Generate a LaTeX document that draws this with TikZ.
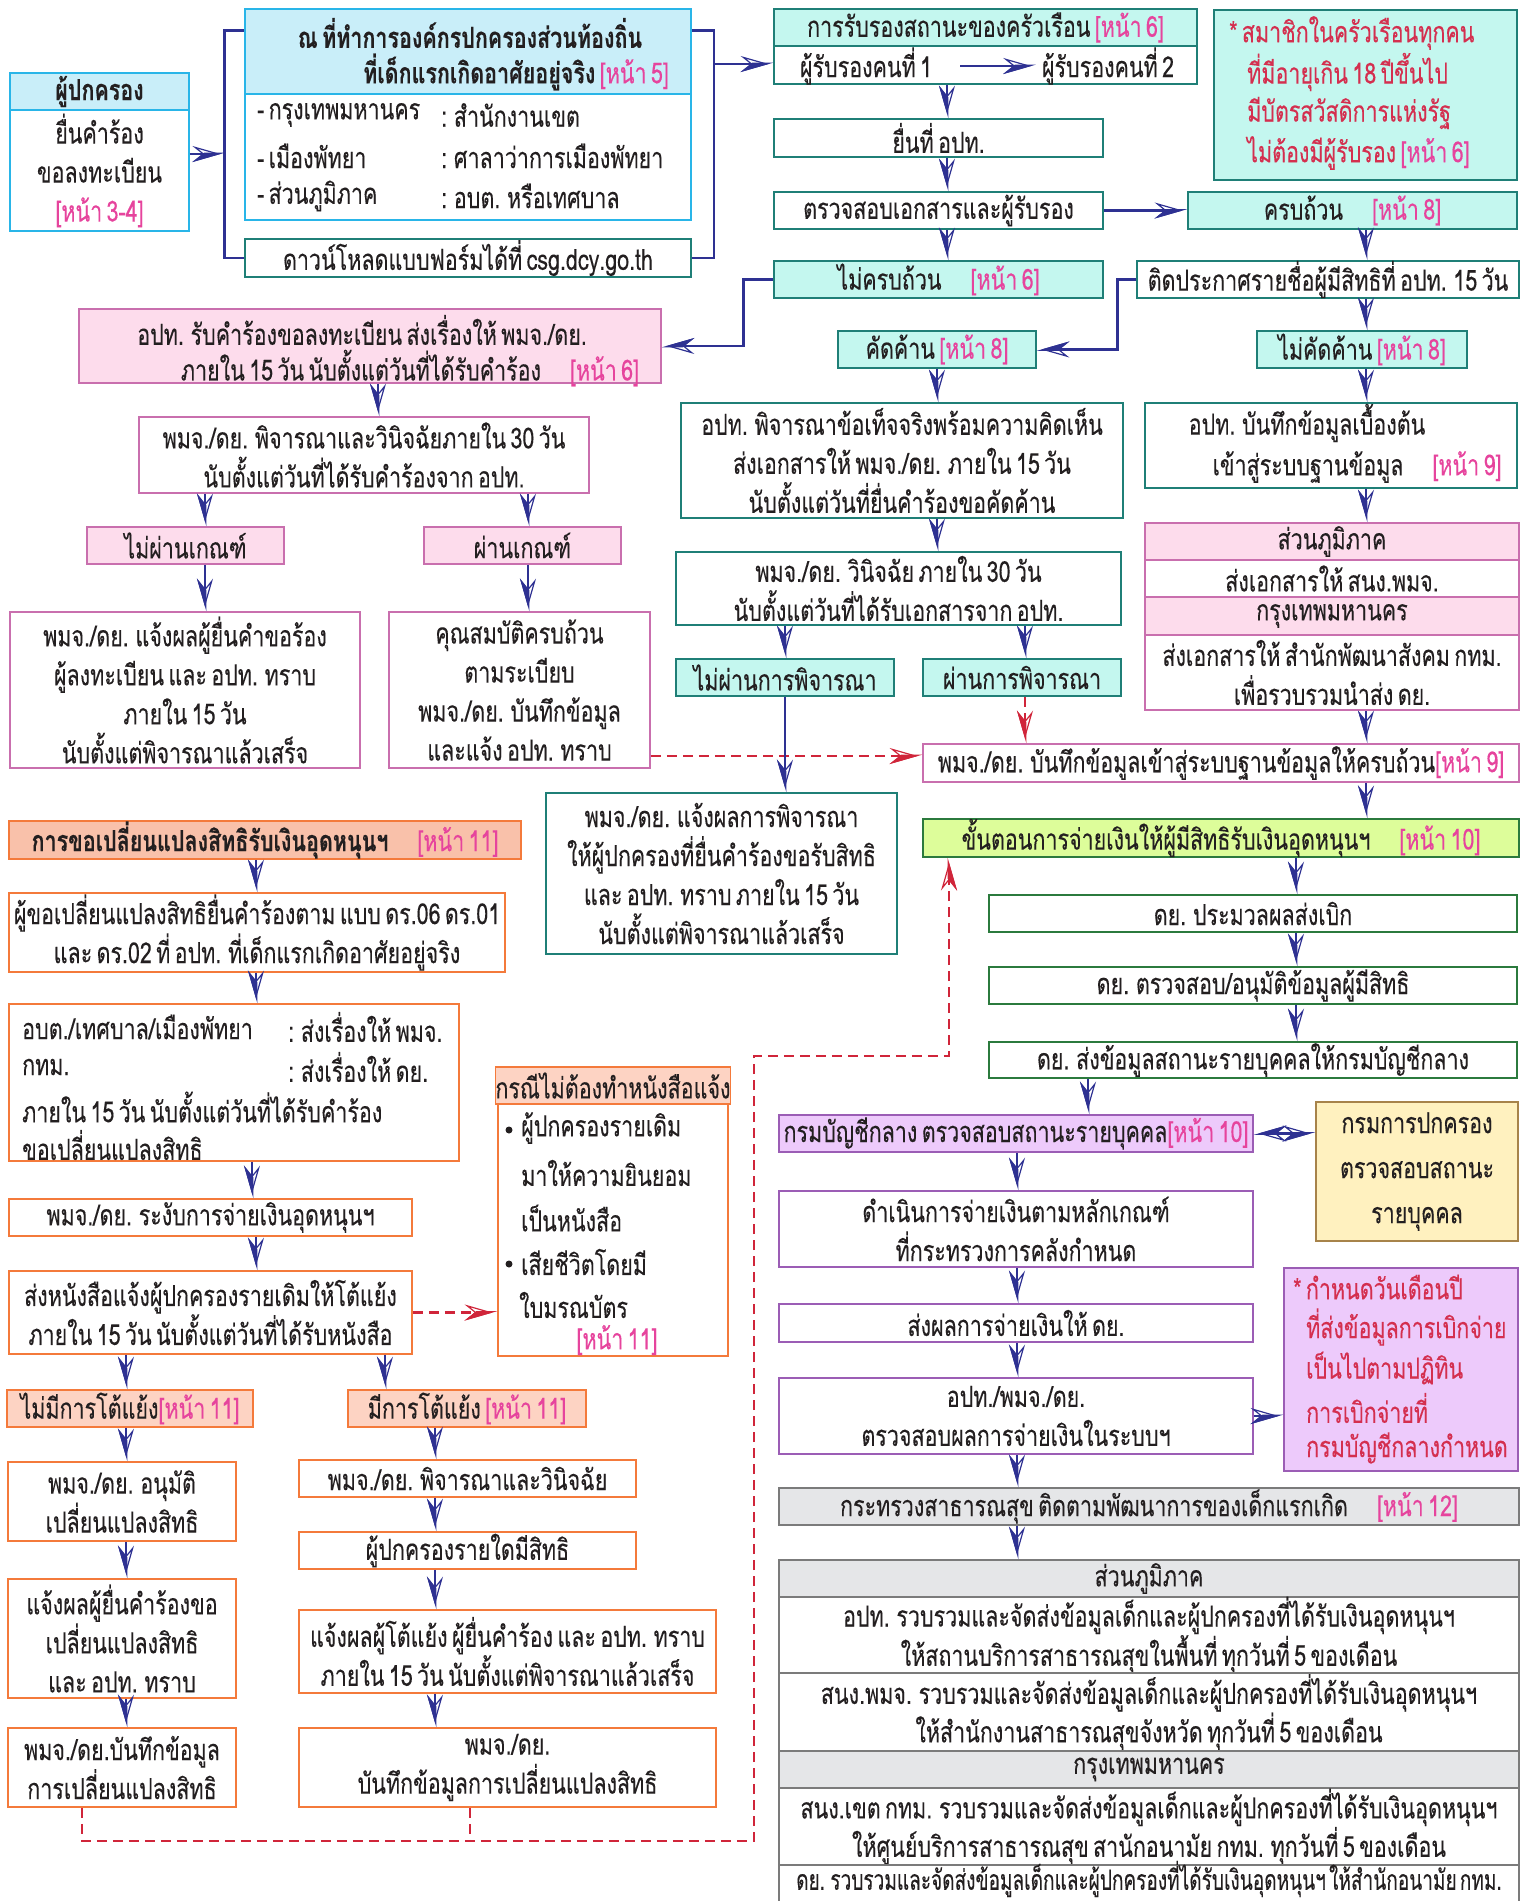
\documentclass[tikz,border=0pt]{standalone}
\usepackage{fontspec}
\setmainfont{Loma}[Script=Thai,FakeStretch=0.74,WordSpace={0.6},FakeBold=0.2]
\newfontfamily\narrowfont{Loma}[Script=Thai,FakeStretch=0.68,WordSpace={0.5},FakeBold=0.2]
\usetikzlibrary{arrows.meta,calc}
\definecolor{navy}{HTML}{2E3192}
\definecolor{txt}{HTML}{231F20}
\definecolor{cyanb}{HTML}{29B5E8}
\definecolor{cyanf}{HTML}{C9EEF9}
\definecolor{tealb}{HTML}{1F7F77}
\definecolor{aquaf}{HTML}{C4F7EF}
\definecolor{pinkb}{HTML}{C96FAE}
\definecolor{pinkf}{HTML}{FDDCEC}
\definecolor{prefc}{HTML}{E6449D}
\definecolor{notec}{HTML}{D42F4F}
\definecolor{orgb}{HTML}{F47A3B}
\definecolor{salf}{HTML}{F9C1AA}
\definecolor{salf2}{HTML}{FDD3C3}
\definecolor{grnf}{HTML}{DDFD9A}
\definecolor{grnb}{HTML}{2B7A3D}
\definecolor{lavf}{HTML}{EDCAFB}
\definecolor{purb}{HTML}{9B5DB5}
\definecolor{yelf}{HTML}{FFF1BF}
\definecolor{yelb}{HTML}{A7834A}
\definecolor{grayf}{HTML}{E5E6E8}
\definecolor{grayb}{HTML}{7B7B7B}
\definecolor{dashc}{HTML}{D0253A}
\newcommand\pref[1]{\textcolor{prefc}{#1}}
\newcommand\fsz{\fontsize{29}{39}\selectfont}
\newcommand\bx[7][]{%
  \pgfmathsetmacro\bw{#5-#3}\pgfmathsetmacro\bh{#6-#4}%
  \node[bxs,#1,minimum width=\bw pt,minimum height=\bh pt] (#2) at ({(#3+#5)/2},{(#4+#6)/2}) {#7};}
\begin{document}
\begin{tikzpicture}[x=1pt,y=-1pt,
  bxs/.style={draw, line width=1.6pt, inner sep=0pt, align=center, text=txt, font=\fsz},
  tx/.style={inner sep=0pt, text=txt, font=\fsz},
  hd/.style={inner sep=0pt, text=txt, font=\fsz\bfseries},
  nt/.style={inner sep=0pt, text=notec, font=\fsz},
  tip/.tip={Stealth[open,length=28pt,width=16pt,inset=10pt,line width=1.2pt,sep=-28pt] Stealth[harpoon,swap,length=28pt,width=16pt,inset=10pt]},
  arr/.style={navy, line width=2.6pt, -tip},
  dbl/.style={navy, line width=2.6pt, tip-tip},
  ln/.style={navy, line width=2.6pt},
  dsh/.style={dashc, line width=2.6pt, dash pattern=on 10pt off 6pt, -tip},
  dshl/.style={dashc, line width=2.6pt, dash pattern=on 10pt off 6pt},
]
\useasboundingbox (0,0) rectangle (1528,1901);

% ---------- top left ----------
\bx[draw=cyanb,fill=cyanf,font=\fsz\bfseries]{guardH}{10}{73}{189}{110}{ผู้ปกครอง}
\bx[draw=cyanb]{guardB}{10}{110}{189}{231}{ยื่นคำร้อง\\ขอลงทะเบียน\\\pref{[หน้า 3-4]}}
\bx[draw=cyanb,fill=cyanf]{officeH}{245}{9}{691}{94}{}
\node[hd] (officeT1) at (470,33) {ณ ที่ทำการองค์กรปกครองส่วนท้องถิ่น};
\node[hd] (officeT2) at (516,72) {ที่เด็กแรกเกิดอาศัยอยู่จริง \pref{\mdseries[หน้า 5]}};
\bx[draw=cyanb]{officeB}{245}{94}{691}{220}{}
\node[tx,anchor=west] (o1a) at (257,115) {- กรุงเทพมหานคร};
\node[tx,anchor=west] (o1b) at (441,115) {: สำนักงานเขต};
\node[tx,anchor=west] (o2a) at (257,156) {- เมืองพัทยา};
\node[tx,anchor=west] (o2b) at (441,156) {: ศาลาว่าการเมืองพัทยา};
\node[tx,anchor=west] (o3a) at (257,196) {- ส่วนภูมิภาค};
\node[tx,anchor=west] (o3b) at (441,196) {: อบต. หรือเทศบาล};
\bx[draw=tealb]{dl}{245}{239}{691}{277}{ดาวน์โหลดแบบฟอร์มได้ที่ csg.dcy.go.th}
\coordinate (bl) at (225,154);
\draw[arr] (guardB.east |- bl) -- (bl);
\draw[ln] ($(officeH.north west)+(0,22)$) -- ++(-20,0) |- (dl.west);
\draw[ln] ($(officeH.north east)+(0,22)$) -- ++(22,0) |- (dl.east);
\coordinate (br) at (713,64);

% ---------- certification column ----------
\bx[draw=tealb,fill=aquaf]{certH}{774}{9}{1197}{46}{การรับรองสถานะของครัวเรือน \pref{[หน้า 6]}}
\bx[draw=tealb]{certB}{774}{46}{1197}{84}{}
\node[tx] (c1) at (866,66) {ผู้รับรองคนที่ 1};
\node[tx] (c2) at (1108,66) {ผู้รับรองคนที่ 2};
\draw[arr] ([xshift=28pt]c1.east) -- ([xshift=-6pt]c2.west);
\draw[arr] (br) -- (br -| certB.west);
\bx[draw=tealb]{submit}{774}{119}{1103}{157}{ยื่นที่ อปท.}
\bx[draw=tealb]{check}{774}{192}{1103}{229}{ตรวจสอบเอกสารและผู้รับรอง}
\bx[draw=tealb,fill=aquaf]{incomp}{774}{261}{1103}{298}{ไม่ครบถ้วน\quad\pref{[หน้า 6]}}
\coordinate (xa) at (947,0);
\draw[arr] (certB.south -| xa) -- (submit.north -| xa);
\draw[arr] (submit.south -| xa) -- (check.north -| xa);
\draw[arr] (check.south -| xa) -- (incomp.north -| xa);

% ---------- note 1 ----------
\bx[draw=tealb,fill=aquaf]{note1}{1214}{10}{1517}{180}{}
\node[nt,anchor=west] (n1a) at (1229,33) {* สมาชิกในครัวเรือนทุกคน};
\node[nt,anchor=west] (n1b) at (1247,72) {ที่มีอายุเกิน 18 ปีขึ้นไป};
\node[nt,anchor=west] (n1c) at (1247,113) {มีบัตรสวัสดิการแห่งรัฐ};
\node[nt,anchor=west] (n1d) at (1247,153) {ไม่ต้องมีผู้รับรอง \pref{[หน้า 6]}};

% ---------- right column ----------
\bx[draw=tealb,fill=aquaf]{complete}{1188}{192}{1517}{229}{ครบถ้วน\quad\pref{[หน้า 8]}}
\bx[draw=tealb]{announce}{1137}{261}{1519}{298}{ติดประกาศรายชื่อผู้มีสิทธิที่ อปท. 15 วัน}
\bx[draw=tealb,fill=aquaf]{object}{838}{331}{1036}{368}{คัดค้าน \pref{[หน้า 8]}}
\bx[draw=tealb,fill=aquaf]{noobj}{1257}{331}{1467}{368}{ไม่คัดค้าน \pref{[หน้า 8]}}
\bx[draw=tealb]{init}{1145}{403}{1517}{488}{}
\node[tx] (initT1) at (1307,423) {อปท. บันทึกข้อมูลเบื้องต้น};
\node[tx] (initT2) at (1357,467) {เข้าสู่ระบบฐานข้อมูล\quad\pref{[หน้า 9]}};
\bx[draw=pinkb,fill=pinkf]{rH1}{1145}{523}{1519}{560}{ส่วนภูมิภาค}
\bx[draw=pinkb]{rB1}{1145}{560}{1519}{597}{ส่งเอกสารให้ สนง.พมจ.}
\bx[draw=pinkb,fill=pinkf]{rH2}{1145}{597}{1519}{635}{กรุงเทพมหานคร}
\bx[draw=pinkb]{rB2}{1145}{635}{1519}{710}{ส่งเอกสารให้ สำนักพัฒนาสังคม กทม.\\เพื่อรวบรวมนำส่ง ดย.}
\bx[draw=pinkb]{record}{923}{744}{1519}{782}{พมจ./ดย. บันทึกข้อมูลเข้าสู่ระบบฐานข้อมูลให้ครบถ้วน\pref{[หน้า 9]}}
\bx[draw=grnb,fill=grnf]{payproc}{923}{819}{1519}{857}{ขั้นตอนการจ่ายเงินให้ผู้มีสิทธิรับเงินอุดหนุนฯ\quad\pref{[หน้า 10]}}
\coordinate (xc) at (1366,0);
\draw[arr] (check.east) -- (check.east -| complete.west);
\draw[arr] (complete.south -| xc) -- (announce.north -| xc);
\draw[arr] (announce.south -| xc) -- (noobj.north -| xc);
\draw[arr] (noobj.south -| xc) -- (init.north -| xc);
\draw[arr] (init.south -| xc) -- (rH1.north -| xc);
\draw[arr] (rB2.south -| xc) -- (record.north -| xc);
\draw[arr] (record.south -| xc) -- (payproc.north -| xc);
\draw[arr] (announce.west) -- ++(-19,0) |- (object.east);

% ---------- left upper ----------
\bx[draw=pinkb,fill=pinkf]{opt1}{79}{309}{661}{383}{}
\node[tx] (opt1T1) at (362,330) {อปท. รับคำร้องขอลงทะเบียน ส่งเรื่องให้ พมจ./ดย.};
\node[tx] (opt1T2) at (410,368) {ภายใน 15 วัน นับตั้งแต่วันที่ได้รับคำร้อง\quad\pref{[หน้า 6]}};
\draw[arr] (incomp.west) -- ++(-30,0) |- (opt1.east);
\bx[draw=pinkb]{consider}{139}{417}{589}{493}{พมจ./ดย. พิจารณาและวินิจฉัยภายใน 30 วัน\\นับตั้งแต่วันที่ได้รับคำร้องจาก อปท.}
\coordinate (x1) at (378,0);
\draw[arr] (opt1.south -| x1) -- (consider.north -| x1);
\bx[draw=pinkb,fill=pinkf]{fail1}{87}{527}{284}{564}{ไม่ผ่านเกณฑ์}
\bx[draw=pinkb,fill=pinkf]{pass1}{424}{527}{621}{564}{ผ่านเกณฑ์}
\coordinate (x2) at (205,0);
\coordinate (x3) at (528,0);
\draw[arr] (consider.south -| x2) -- (fail1.north -| x2);
\draw[arr] (consider.south -| x3) -- (pass1.north -| x3);
\bx[draw=pinkb]{notify1}{10}{612}{360}{768}{พมจ./ดย. แจ้งผลผู้ยื่นคำขอร้อง\\ผู้ลงทะเบียน และ อปท. ทราบ\\ภายใน 15 วัน\\นับตั้งแต่พิจารณาแล้วเสร็จ}
\bx[draw=pinkb]{qual}{389}{612}{650}{768}{คุณสมบัติครบถ้วน\\ตามระเบียบ\\พมจ./ดย. บันทึกข้อมูล\\และแจ้ง อปท. ทราบ}
\draw[arr] (fail1.south -| x2) -- (notify1.north -| x2);
\draw[arr] (pass1.south -| x3) -- (qual.north -| x3);
\coordinate (yq) at (0,756);
\draw[dsh] (qual.east |- yq) -- (record.west |- yq);

% ---------- middle ----------
\bx[draw=tealb]{fact}{681}{403}{1123}{518}{อปท. พิจารณาข้อเท็จจริงพร้อมความคิดเห็น\\ส่งเอกสารให้ พมจ./ดย. ภายใน 15 วัน\\นับตั้งแต่วันที่ยื่นคำร้องขอคัดค้าน}
\draw[arr] (object.south) -- (fact.north -| object.south);
\bx[draw=tealb]{decide}{676}{552}{1121}{625}{พมจ./ดย. วินิจฉัย ภายใน 30 วัน\\นับตั้งแต่วันที่ได้รับเอกสารจาก อปท.}
\coordinate (xb) at (937,0);
\draw[arr] (fact.south -| xb) -- (decide.north -| xb);
\bx[draw=tealb,fill=aquaf]{fail2}{676}{659}{894}{696}{ไม่ผ่านการพิจารณา}
\bx[draw=tealb,fill=aquaf]{pass2}{923}{659}{1121}{696}{ผ่านการพิจารณา}
\bx[draw=tealb]{notify2}{546}{793}{897}{954}{พมจ./ดย. แจ้งผลการพิจารณา\\ให้ผู้ปกครองที่ยื่นคำร้องขอรับสิทธิ\\และ อปท. ทราบ ภายใน 15 วัน\\นับตั้งแต่พิจารณาแล้วเสร็จ}
\coordinate (xd) at (785,0);
\coordinate (xe) at (1025,0);
\draw[arr] (decide.south -| xd) -- (fail2.north -| xd);
\draw[arr] (decide.south -| xe) -- (pass2.north -| xe);
\draw[arr] (fail2.south -| xd) -- (notify2.north -| xd);
\draw[dsh] (pass2.south -| xe) -- (record.north -| xe);

% ---------- payment column ----------
\bx[draw=grnb]{proc}{989}{895}{1517}{932}{ดย. ประมวลผลส่งเบิก}
\bx[draw=grnb]{approve}{989}{967}{1517}{1004}{ดย. ตรวจสอบ/อนุมัติข้อมูลผู้มีสิทธิ}
\bx[draw=grnb]{senddata}{989}{1042}{1517}{1078}{ดย. ส่งข้อมูลสถานะรายบุคคลให้กรมบัญชีกลาง}
\coordinate (xf) at (1296,0);
\draw[arr] (payproc.south -| xf) -- (proc.north -| xf);
\draw[arr] (proc.south -| xf) -- (approve.north -| xf);
\draw[arr] (approve.south -| xf) -- (senddata.north -| xf);
\bx[draw=purb,fill=lavf]{cgd}{779}{1115}{1253}{1152}{กรมบัญชีกลาง ตรวจสอบสถานะรายบุคคล\pref{[หน้า 10]}}
\bx[draw=yelb,fill=yelf,font=\fontsize{29}{45}\selectfont]{dopa}{1316}{1102}{1518}{1241}{กรมการปกครอง\\ตรวจสอบสถานะ\\รายบุคคล}
\coordinate (xg) at (1088,0);
\draw[arr] (senddata.south -| xg) -- (cgd.north -| xg);
\draw[dbl] (cgd.east) -- (cgd.east -| dopa.west);
\bx[draw=purb]{pay}{779}{1191}{1253}{1267}{ดำเนินการจ่ายเงินตามหลักเกณฑ์\\ที่กระทรวงการคลังกำหนด}
\bx[draw=purb]{result}{779}{1304}{1253}{1342}{ส่งผลการจ่ายเงินให้ ดย.}
\bx[draw=purb]{verify}{779}{1378}{1253}{1454}{อปท./พมจ./ดย.\\ตรวจสอบผลการจ่ายเงินในระบบฯ}
\bx[draw=purb,fill=lavf]{note2}{1284}{1268}{1518}{1471}{}
\node[nt,anchor=west] (n2a) at (1293,1287) {* กำหนดวันเดือนปี};
\node[nt,anchor=west] (n2b) at (1306,1327) {ที่ส่งข้อมูลการเบิกจ่าย};
\node[nt,anchor=west] (n2c) at (1306,1368) {เป็นไปตามปฏิทิน};
\node[nt,anchor=west] (n2d) at (1306,1408) {การเบิกจ่ายที่};
\node[nt,anchor=west] (n2e) at (1306,1448) {กรมบัญชีกลางกำหนด};
\draw[arr] (verify.east) -- (verify.east -| note2.west);
\bx[draw=grayb,fill=grayf]{moph}{779}{1488}{1519}{1525}{กระทรวงสาธารณสุข ติดตามพัฒนาการของเด็กแรกเกิด\quad\pref{[หน้า 12]}}
\coordinate (xh) at (1017,0);
\draw[arr] (cgd.south -| xh) -- (pay.north -| xh);
\draw[arr] (pay.south -| xh) -- (result.north -| xh);
\draw[arr] (result.south -| xh) -- (verify.north -| xh);
\draw[arr] (verify.south -| xh) -- (moph.north -| xh);
\bx[draw=grayb,fill=grayf]{tH1}{779}{1560}{1519}{1597}{ส่วนภูมิภาค}
\bx[draw=grayb,font=\fontsize{29}{37}\selectfont]{tR1}{779}{1597}{1519}{1673}{อปท. รวบรวมและจัดส่งข้อมูลเด็กและผู้ปกครองที่ได้รับเงินอุดหนุนฯ\\ให้สถานบริการสาธารณสุขในพื้นที่ ทุกวันที่ 5 ของเดือน}
\bx[draw=grayb,font=\fontsize{29}{37}\selectfont]{tR2}{779}{1673}{1519}{1751}{สนง.พมจ. รวบรวมและจัดส่งข้อมูลเด็กและผู้ปกครองที่ได้รับเงินอุดหนุนฯ\\ให้สำนักงานสาธารณสุขจังหวัด ทุกวันที่ 5 ของเดือน}
\bx[draw=grayb,fill=grayf]{tH2}{779}{1751}{1519}{1788}{กรุงเทพมหานคร}
\bx[draw=grayb,font=\fontsize{29}{37}\selectfont]{tR3}{779}{1788}{1519}{1865}{สนง.เขต กทม. รวบรวมและจัดส่งข้อมูลเด็กและผู้ปกครองที่ได้รับเงินอุดหนุนฯ\\ให้ศูนย์บริการสาธารณสุข สานักอนามัย กทม. ทุกวันที่ 5 ของเดือน}
\bx[draw=grayb]{tR4}{779}{1865}{1519}{1912}{}
\node[tx,font=\narrowfont\fontsize{28}{39}\selectfont] (tR4T) at (1149,1879) {ดย. รวบรวมและจัดส่งข้อมูลเด็กและผู้ปกครองที่ได้รับเงินอุดหนุนฯ ให้สำนักอนามัย กทม.};
\draw[arr] (moph.south -| xh) -- (tH1.north -| xh);

% ---------- change of rights ----------
\bx[draw=orgb,fill=salf,font=\fsz\bfseries]{chg}{9}{821}{521}{859}{การขอเปลี่ยนแปลงสิทธิรับเงินอุดหนุนฯ\quad\pref{\mdseries[หน้า 11]}}
\bx[draw=orgb]{chg1}{9}{893}{505}{972}{ผู้ขอเปลี่ยนแปลงสิทธิยื่นคำร้องตาม แบบ ดร.06 ดร.01\\และ ดร.02 ที่ อปท. ที่เด็กแรกเกิดอาศัยอยู่จริง}
\bx[draw=orgb]{chg2}{9}{1004}{459}{1161}{}
\node[tx,anchor=west] (g1a) at (22,1027) {อบต./เทศบาล/เมืองพัทยา};
\node[tx,anchor=west] (g1b) at (288,1027) {: ส่งเรื่องให้ พมจ.};
\node[tx,anchor=west] (g2a) at (22,1067) {กทม.};
\node[tx,anchor=west] (g2b) at (288,1067) {: ส่งเรื่องให้ ดย.};
\node[tx,anchor=west] (g3) at (22,1107) {ภายใน 15 วัน นับตั้งแต่วันที่ได้รับคำร้อง};
\node[tx,anchor=west] (g4) at (22,1145) {ขอเปลี่ยนแปลงสิทธิ};
\bx[draw=orgb]{suspend}{9}{1199}{412}{1236}{พมจ./ดย. ระงับการจ่ายเงินอุดหนุนฯ}
\bx[draw=orgb]{letter}{9}{1271}{412}{1354}{ส่งหนังสือแจ้งผู้ปกครองรายเดิมให้โต้แย้ง\\ภายใน 15 วัน นับตั้งแต่วันที่ได้รับหนังสือ}
\coordinate (xi) at (256,0);
\coordinate (xj) at (252,0);
\draw[arr] (chg.south -| xi) -- (chg1.north -| xi);
\draw[arr] (chg1.south -| xi) -- (chg2.north -| xi);
\draw[arr] (chg2.south -| xj) -- (suspend.north -| xj);
\draw[arr] (suspend.south -| xi) -- (letter.north -| xi);
\bx[draw=orgb,fill=salf2]{caseH}{498}{1067}{728}{1104}{กรณีไม่ต้องทำหนังสือแจ้ง}
\bx[draw=orgb]{caseB}{498}{1104}{728}{1356}{}
\fill[txt] (509,1130) circle (3.5pt);
\fill[txt] (509,1264) circle (3.5pt);
\node[tx,anchor=west] (k1) at (521,1128) {ผู้ปกครองรายเดิม};
\node[tx,anchor=west] (k2) at (521,1173) {มาให้ความยินยอม};
\node[tx,anchor=west] (k3) at (521,1218) {เป็นหนังสือ};
\node[tx,anchor=west] (k4) at (521,1262) {เสียชีวิตโดยมี};
\node[tx,anchor=west] (k5) at (519,1305) {ใบมรณบัตร};
\node[tx] (k6) at (617,1340) {\pref{[หน้า 11]}};
\draw[dsh] (letter.east) -- (letter.east -| caseB.west);
\bx[draw=orgb,fill=salf2]{noarg}{7}{1390}{253}{1427}{ไม่มีการโต้แย้ง\pref{[หน้า 11]}}
\bx[draw=orgb,fill=salf2]{arg}{348}{1390}{586}{1427}{มีการโต้แย้ง \pref{[หน้า 11]}}
\coordinate (xk) at (126,0);
\coordinate (xl) at (385,0);
\coordinate (xm) at (435,0);
\draw[arr] (letter.south -| xk) -- (noarg.north -| xk);
\draw[arr] (letter.south -| xl) -- (arg.north -| xl);
\bx[draw=orgb]{apprv}{8}{1462}{236}{1541}{พมจ./ดย. อนุมัติ\\เปลี่ยนแปลงสิทธิ}
\bx[draw=orgb]{inform}{8}{1579}{236}{1698}{แจ้งผลผู้ยื่นคำร้องขอ\\เปลี่ยนแปลงสิทธิ\\และ อปท. ทราบ}
\bx[draw=orgb]{rec1}{8}{1728}{236}{1807}{พมจ./ดย.บันทึกข้อมูล\\การเปลี่ยนแปลงสิทธิ}
\draw[arr] (noarg.south -| xk) -- (apprv.north -| xk);
\draw[arr] (apprv.south -| xk) -- (inform.north -| xk);
\draw[arr] (inform.south -| xk) -- (rec1.north -| xk);
\bx[draw=orgb]{judge}{299}{1460}{636}{1497}{พมจ./ดย. พิจารณาและวินิจฉัย}
\bx[draw=orgb]{who}{299}{1532}{636}{1569}{ผู้ปกครองรายใดมีสิทธิ}
\bx[draw=orgb]{inform2}{299}{1610}{716}{1693}{แจ้งผลผู้โต้แย้ง ผู้ยื่นคำร้อง และ อปท. ทราบ\\ภายใน 15 วัน นับตั้งแต่พิจารณาแล้วเสร็จ}
\bx[draw=orgb]{rec2}{299}{1728}{716}{1807}{พมจ./ดย.\\บันทึกข้อมูลการเปลี่ยนแปลงสิทธิ}
\draw[arr] (arg.south -| xm) -- (judge.north -| xm);
\draw[arr] (judge.south -| xm) -- (who.north -| xm);
\draw[arr] (who.south -| xm) -- (inform2.north -| xm);
\draw[arr] (inform2.south -| xm) -- (rec2.north -| xm);

% ---------- dashed return path ----------
\coordinate (d1) at (82,1841);
\coordinate (d2) at (754,1841);
\coordinate (d3) at (754,1056);
\coordinate (d4) at (949,1056);
\coordinate (d5) at (470,1841);
\draw[dsh] (rec1.south -| d1) -- (d1) -- (d2) -- (d3) -- (d4) -- (payproc.south -| d4);
\draw[dshl] (rec2.south -| d5) -- (d5);
\end{tikzpicture}
\end{document}
